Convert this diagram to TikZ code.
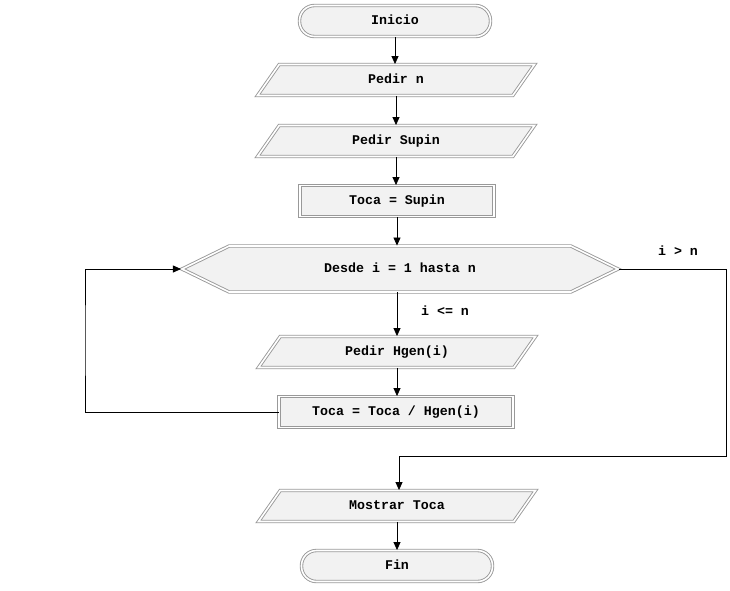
\documentclass[tikz,border=0pt]{standalone}
\usepackage{fontspec}
\newfontfamily\monof{Liberation Mono}
\usetikzlibrary{shapes.geometric,shapes.symbols,arrows.meta}
\definecolor{boxfill}{HTML}{F2F2F2}
\definecolor{boxline}{HTML}{999999}
\tikzset{
  txt/.style={font=\monof\bfseries\fontsize{13.3}{15}\selectfont, text height=9pt, text depth=2pt},
  base/.style={draw=boxline, double=white, double distance=1.6pt, line width=0.9pt,
    fill=boxfill, txt, inner xsep=0pt, inner ysep=10pt},
  term/.style={base, rectangle, rounded corners=15pt, minimum width=191pt, minimum height=30pt},
  io/.style={base, trapezium, trapezium left angle=55, trapezium right angle=125,
    trapezium stretches body, minimum width=277pt, minimum height=31pt},
  proc/.style={base, rectangle, minimum width=194pt, minimum height=30pt},
  loopbox/.style={base, signal, signal to=west and east, signal pointer angle=52,
    minimum width=436pt, minimum height=46pt},
  lbl/.style={txt, inner sep=0pt},
  arr/.style={line width=0.8pt, -{Triangle[length=8pt,width=7pt]}},
  ln/.style={line width=0.8pt}
}
\begin{document}
\begin{tikzpicture}[x=1pt,y=-1pt]
\useasboundingbox (0,0) rectangle (730,590);
\node[term] (inicio) at (395,21) {Inicio};
\node[io] (pedirn) at (396,80) {Pedir n};
\node[io] (pedirs) at (396,141) {Pedir Supin};
\node[proc] (toca1) at (397,201) {Toca = Supin};
\node[loopbox] (desde) at (400,269) {Desde i = 1 hasta n};
\node[io] (pedirh) at (397,352) {Pedir Hgen(i)};
\node[proc, minimum width=234pt] (toca2) at (396,412) {Toca = Toca / Hgen(i)};
\node[io] (mostrar) at (397,506) {Mostrar Toca};
\node[term] (fin) at (397,566) {Fin};
\node[lbl] (lle) at (445,312) {i <= n};
\node[lbl] (lgt) at (678,252) {i > n};
\coordinate (L) at (85,340);
\coordinate (R) at (726,456);
\draw[arr] (inicio.south) -- (inicio.south |- pedirn.north);
\draw[arr] (pedirn.south) -- (pedirn.south |- pedirs.north);
\draw[arr] (pedirs.south) -- (pedirs.south |- toca1.north);
\draw[arr] (toca1.south) -- (toca1.south |- desde.north);
\draw[arr] (desde.south -| toca1.south) -- (toca1.south |- pedirh.north);
\draw[arr] (pedirh.south) -- (pedirh.south |- toca2.north);
\draw[arr] (toca2.west) -| (L) |- (desde.west);
\draw[arr] (desde.east) -| (R) -| ([xshift=2pt]mostrar.north);
\draw[arr] (mostrar.south) -- (mostrar.south |- fin.north);
\end{tikzpicture}
\end{document}
